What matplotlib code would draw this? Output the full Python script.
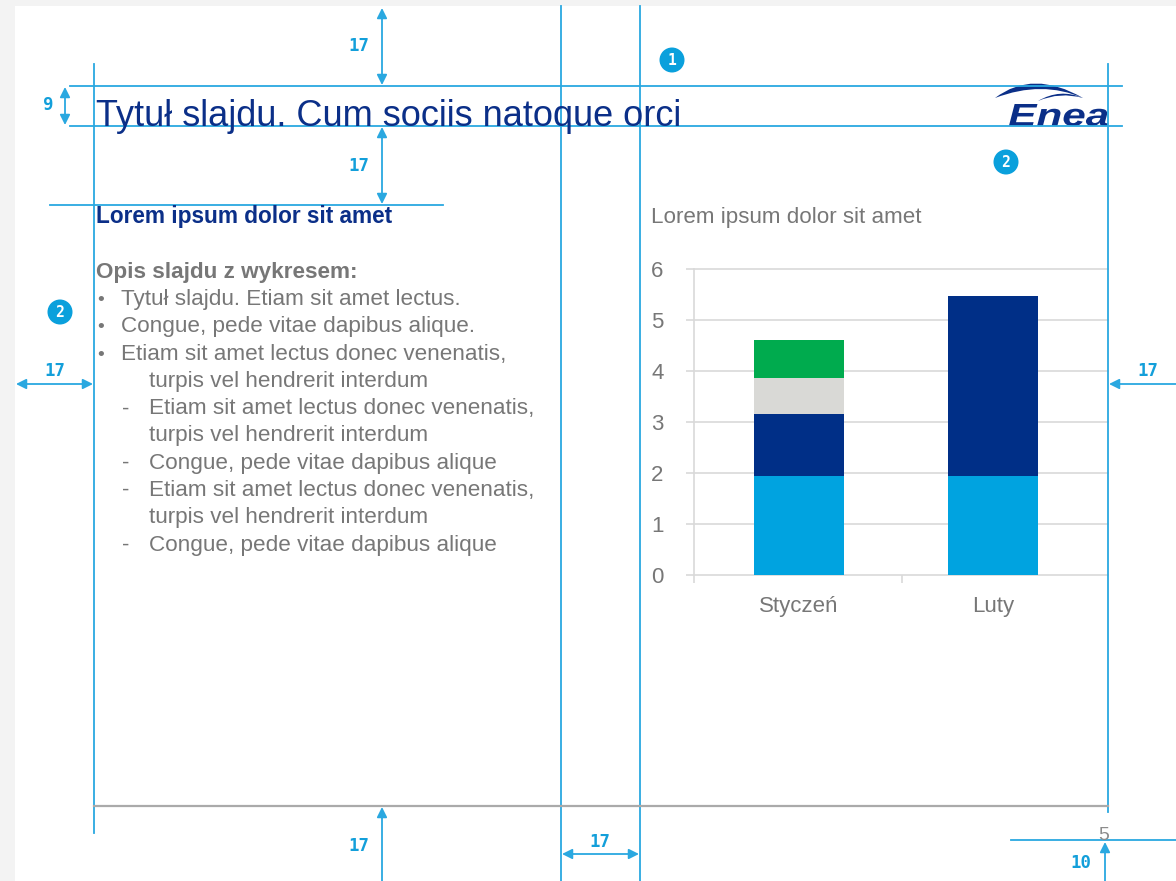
import matplotlib
matplotlib.use("Agg")
import matplotlib.pyplot as plt
from matplotlib.patches import Rectangle, Circle, PathPatch
from matplotlib.textpath import TextPath
from matplotlib.font_manager import FontProperties
from matplotlib.path import Path
from matplotlib.transforms import Affine2D

plt.rcParams['font.family'] = ['Liberation Sans', 'DejaVu Sans']

# chart data
categories = ["Styczeń", "Luty"]
seria1 = [1.95, 1.95]
seria2 = [1.21, 3.53]
seria3 = [0.71, 0.0]
seria4 = [0.74, 0.0]
y_ticks = [0, 1, 2, 3, 4, 5, 6]
bar_colors = ["#00a3e0", "#002f87", "#d9d9d6", "#00ab4e"]

# slide text
title = "Tytuł slajdu. Cum sociis natoque orci"
subtitle = "Lorem ipsum dolor sit amet"
chart_title = "Lorem ipsum dolor sit amet"
body_head = "Opis slajdu z wykresem:"
body_lines = [
    ("•", "Tytuł slajdu. Etiam sit amet lectus."),
    ("•", "Congue, pede vitae dapibus alique."),
    ("•", "Etiam sit amet lectus donec venenatis,"),
    ("", "turpis vel hendrerit interdum"),
    ("-", "Etiam sit amet lectus donec venenatis,"),
    ("", "turpis vel hendrerit interdum"),
    ("-", "Congue, pede vitae dapibus alique"),
    ("-", "Etiam sit amet lectus donec venenatis,"),
    ("", "turpis vel hendrerit interdum"),
    ("-", "Congue, pede vitae dapibus alique"),
]

W, H = 1176, 881
GUIDE = "#2aa8e0"
LABEL = "#139fda"
NAVY = "#0b2f88"
GREY_TXT = "#777777"
GRID = "#d9d9d9"

fig = plt.figure(figsize=(W / 100, H / 100), dpi=100, facecolor="#f3f3f3")
fig.add_artist(Rectangle((15 / W, 0), 1 - 15 / W, 1 - 6 / H, transform=fig.transFigure,
                         facecolor="white", edgecolor="none", zorder=-5))

# ---- bar chart ----
px_left, px_right, px_top, px_bottom = 694, 1108, 269.3, 575
ax = fig.add_axes([px_left / W, 1 - px_bottom / H, (px_right - px_left) / W,
                   (px_bottom - px_top) / H], zorder=1)
ax.patch.set_alpha(0)
unit = 194.0  # pixels between category centres
x = [0, 1]
bw = 90 / unit
bottom = [0.0, 0.0]
for vals, col in zip([seria1, seria2, seria3, seria4], bar_colors):
    ax.bar(x, vals, width=bw, bottom=bottom, color=col, linewidth=0, zorder=3)
    bottom = [b + v for b, v in zip(bottom, vals)]

ax.set_xlim((px_left - 799) / unit, 1 + (px_right - 993) / unit)
ax.set_ylim(0, 6)
ax.set_yticks(y_ticks)
ax.set_xticks(x)
ax.set_xticklabels(categories)
ax.set_xticks([(px_left - 799) / unit, (902 - 799) / unit], minor=True)
ax.yaxis.grid(True, color=GRID, lw=1.2, zorder=0)
for gl in ax.get_ygridlines():
    gl.set_clip_on(False)
ax.set_axisbelow(True)
for s in ["top", "right", "bottom"]:
    ax.spines[s].set_visible(False)
ax.spines["left"].set_color(GRID)
ax.spines["left"].set_linewidth(1.2)
ax.tick_params(axis="y", length=5.8, width=1.2, color=GRID, pad=16,
               labelsize=16, labelcolor=GREY_TXT)
ax.tick_params(axis="x", which="major", length=0, pad=15, labelsize=16,
               labelcolor=GREY_TXT)
ax.tick_params(axis="x", which="minor", length=5.8, width=1.2, color=GRID)
for lbl in ax.get_xticklabels():
    lbl.set_x(lbl.get_position()[0])
ax.get_xticklabels()[0].set_ha("center")

# ---- overlay with slide texts and guides ----
ov = fig.add_axes([0, 0, 1, 1], zorder=5)
ov.set_xlim(0, W)
ov.set_ylim(H, 0)
ov.axis("off")
ov.patch.set_alpha(0)

ov.text(96, 126, title, fontsize=26, color=NAVY, va="baseline")
ov.text(96, 223, subtitle, fontsize=16.3, color=NAVY, weight="bold", va="baseline")
ov.text(651, 223, chart_title, fontsize=16.1, color=GREY_TXT, va="baseline")
ov.text(96, 278, body_head, fontsize=16.2, color=GREY_TXT, weight="bold", va="baseline")
for i, (mark, line) in enumerate(body_lines):
    yb = 305 + i * 27.3
    if mark == "•":
        ov.text(97, yb, mark, fontsize=14, color=GREY_TXT, va="baseline")
        ov.text(121, yb, line, fontsize=16.2, color=GREY_TXT, va="baseline")
    elif mark == "-":
        ov.text(122, yb, mark, fontsize=16, color=GREY_TXT, va="baseline")
        ov.text(149, yb, line, fontsize=16.2, color=GREY_TXT, va="baseline")
    else:
        ov.text(149, yb, line, fontsize=16.2, color=GREY_TXT, va="baseline")

ov.text(1104, 840, "5", fontsize=14, color="#8c8c8c", ha="center", va="baseline")

# Enea logo
fp = FontProperties(family="Liberation Sans", weight="bold", style="italic")
tp = TextPath((0, 0), "Enea", size=1, prop=fp)
ext = tp.get_extents()
sx = (1108 - 1009) / ext.width
sy = (126 - 104) / ext.height
tr = Affine2D().translate(-ext.x0, -ext.y0).scale(sx, -sy).translate(1009, 126)
ov.add_patch(PathPatch(tr.transform_path(tp), facecolor=NAVY, edgecolor="none"))
arc1 = Path([(995, 98), (1033, 69), (1083, 98), (1042, 80), (995, 98), (995, 98)],
            [Path.MOVETO, Path.CURVE3, Path.CURVE3, Path.CURVE3, Path.CURVE3, Path.CLOSEPOLY])
arc2 = Path([(1038, 101), (1060, 88), (1083, 98), (1060, 91.5), (1038, 101), (1038, 101)],
            [Path.MOVETO, Path.CURVE3, Path.CURVE3, Path.CURVE3, Path.CURVE3, Path.CLOSEPOLY])
ov.add_patch(PathPatch(arc1, facecolor=NAVY, edgecolor="none"))
ov.add_patch(PathPatch(arc2, facecolor=NAVY, edgecolor="none"))

# guide lines
lw = 1.3
for xv, y0, y1 in [(94, 64, 833), (561, 6, 881), (640, 6, 881), (1108, 64, 812)]:
    ov.plot([xv, xv], [y0, y1], color=GUIDE, lw=lw)
for yv, x0, x1 in [(86, 70, 1122), (126, 70, 1122), (205, 50, 443), (840, 1011, 1176)]:
    ov.plot([x0, x1], [yv, yv], color=GUIDE, lw=lw)
ov.plot([94, 1108], [805.5, 805.5], color="#aaaaaa", lw=1.6)


def arrow(p0, p1, style="<|-|>"):
    ov.annotate("", xy=p1, xytext=p0,
                arrowprops=dict(arrowstyle=style, color=GUIDE, lw=1.3,
                                mutation_scale=15, shrinkA=0, shrinkB=0))


arrow((382, 8), (382, 85))
arrow((382, 127), (382, 204))
arrow((65, 87), (65, 125))
arrow((16, 384), (93, 384))
arrow((1176, 384), (1109, 384), "-|>")
arrow((382, 890), (382, 807), "-|>")
arrow((562, 854), (639, 854))
arrow((1105, 890), (1105, 842), "-|>")

mono = dict(family="DejaVu Sans Mono", weight="bold", color=LABEL, fontsize=12.5,
            ha="center", va="center")
for tx, ty, s in [(359, 46, "17"), (359, 166, "17"), (48, 105, "9"), (55, 371, "17"),
                  (1148, 371, "17"), (359, 846, "17"), (600, 842, "17"), (1081, 863, "10")]:
    ov.text(tx, ty, s, **mono)

for cx, cy, s in [(672, 60, "1"), (1006, 162, "2"), (60, 312, "2")]:
    ov.add_patch(Circle((cx, cy), 12.5, facecolor="#0aa0dc", edgecolor="none"))
    ov.text(cx, cy + 0.5, s, family="DejaVu Sans Mono", weight="bold", color="white",
            fontsize=10.5, ha="center", va="center")

fig.savefig("out.png", dpi=100, facecolor=fig.get_facecolor())
